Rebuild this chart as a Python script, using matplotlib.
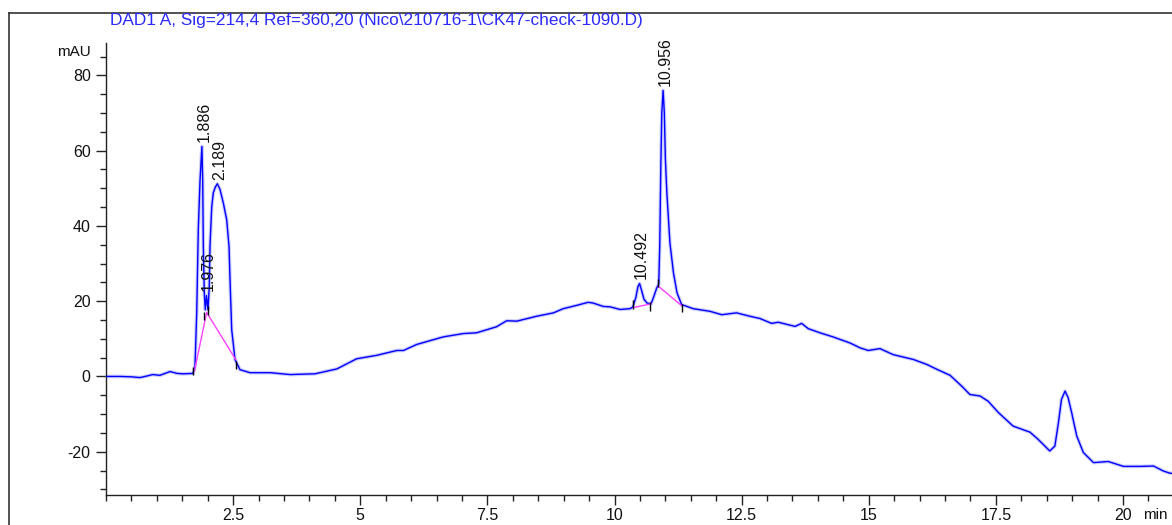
import numpy as np
import matplotlib
matplotlib.use("Agg")
import matplotlib.pyplot as plt
from matplotlib.lines import Line2D
from matplotlib.ticker import MultipleLocator, FixedLocator

plt.rcParams['font.family'] = ['Liberation Sans', 'DejaVu Sans']

# DAD1 A chromatogram trace (retention time in min, absorbance in mAU)
time_min = [
    0.00, 0.28, 0.50, 0.67, 0.80, 0.92, 1.06, 1.26, 1.40, 1.52, 1.71,
    1.750, 1.784, 1.815, 1.849, 1.886, 1.902, 1.914, 1.933, 1.953, 1.976,
    2.006, 2.031, 2.045, 2.079, 2.110, 2.150, 2.189, 2.242, 2.307, 2.374,
    2.419, 2.439, 2.472, 2.537, 2.635, 2.832,
    3.23, 3.62, 4.11, 4.54, 4.93, 5.32, 5.72, 5.85, 6.11, 6.63, 7.03, 7.29,
    7.68, 7.88, 8.08, 8.47, 8.80, 8.99, 9.26, 9.48, 9.58, 9.78, 9.91, 10.11,
    10.30, 10.36, 10.42, 10.46, 10.492, 10.53, 10.58, 10.64, 10.72, 10.78,
    10.83, 10.87, 10.89, 10.91, 10.93, 10.956, 10.98, 11.00, 11.03, 11.09,
    11.16, 11.23, 11.32, 11.55, 11.88, 12.11, 12.40, 12.66, 12.86, 13.09,
    13.22, 13.55, 13.68, 13.81, 14.04, 14.30, 14.63, 14.83, 14.99, 15.22,
    15.48, 15.88, 16.14, 16.34, 16.60, 16.83, 16.99, 17.19, 17.35, 17.55,
    17.84, 18.17, 18.33, 18.56, 18.66, 18.73, 18.79, 18.86, 18.92, 18.99,
    19.09, 19.22, 19.42, 19.71, 20.01, 20.33, 20.60, 20.79, 20.92, 21.00,
]
signal_mau = [
    0.0, 0.0, -0.1, -0.3, 0.1, 0.5, 0.3, 1.3, 0.8, 0.7, 0.8,
    2.6, 16.9, 39.0, 52.0, 61.1, 52.0, 34.6, 22.2, 17.7, 21.5,
    17.7, 24.0, 34.6, 45.0, 48.8, 50.3, 51.2, 49.7, 46.1, 41.6,
    34.6, 25.7, 12.4, 4.5, 1.8, 1.0,
    1.0, 0.5, 0.7, 2.0, 4.7, 5.6, 6.9, 6.9, 8.5, 10.5, 11.4, 11.6,
    13.2, 14.8, 14.7, 16.0, 16.9, 18.0, 18.9, 19.7, 19.5, 18.6, 18.5, 17.8,
    18.0, 18.4, 21.0, 23.8, 24.7, 23.0, 20.5, 19.5, 19.3, 21.5,
    23.5, 24.5, 35.0, 55.0, 70.0, 76.0, 70.0, 58.0, 48.7, 35.5,
    27.5, 22.2, 19.1, 18.0, 17.3, 16.4, 16.9, 16.0, 15.4, 14.1,
    14.4, 13.3, 14.1, 12.7, 11.6, 10.5, 8.9, 7.6, 6.9, 7.4,
    5.8, 4.5, 3.2, 1.9, 0.3, -2.6, -4.8, -5.2, -6.6, -9.6,
    -13.2, -14.8, -16.7, -19.8, -18.5, -12.3, -6.1, -3.9, -5.6, -9.6,
    -15.8, -20.2, -22.9, -22.6, -23.9, -23.9, -23.8, -25.1, -25.7, -25.8,
]

# Integrated peaks (retention times)
peak_times = [1.886, 1.976, 2.189, 10.492, 10.956]
peak_labels = ["1.886", "1.976", "2.189", "10.492", "10.956"]

# Integration baselines drawn under the peaks
baseline_1_t = [1.74, 1.98, 2.55]
baseline_1_y = [1.5, 17.0, 4.5]
baseline_2_t = [10.37, 10.72]
baseline_2_y = [18.3, 19.3]
baseline_3_t = [10.86, 11.32]
baseline_3_y = [24.0, 18.8]

# Peak start / end event markers
event_times = [1.72, 1.92, 2.01, 2.55, 10.37, 10.70, 10.86, 11.32]
event_levels = [1.5, 16.0, 17.5, 3.1, 19.1, 18.6, 24.9, 18.1]

title_text = r"DAD1 A, Sig=214,4 Ref=360,20 (Nico\210716-1\CK47-check-1090.D)"

W, H = 1172, 525
fig = plt.figure(figsize=(W / 100, H / 100), dpi=100)
fig.patch.set_facecolor("white")

ax_left, ax_right, ax_top, ax_bottom = 106, 1172, 43, 495
ax = fig.add_axes([ax_left / W, 1 - ax_bottom / H,
                   (ax_right - ax_left) / W, (ax_bottom - ax_top) / H])
ax.set_facecolor("white")

# trace: soft halo plus solid line
ax.plot(time_min, signal_mau, color="#8c8cff", lw=2.6, alpha=0.45,
        solid_joinstyle="round", zorder=2)
ax.plot(time_min, signal_mau, color="#0000ff", lw=1.0, zorder=3)

for bt, by in [(baseline_1_t, baseline_1_y), (baseline_2_t, baseline_2_y),
               (baseline_3_t, baseline_3_y)]:
    ax.plot(bt, by, color="#ff40ff", lw=1.0, zorder=4)

ev_lv = np.array(event_levels)
ax.vlines(event_times, ev_lv - 1.1, ev_lv + 1.1, color="black", lw=1.0, zorder=5)

for pt, lab in zip(peak_times, peak_labels):
    py = np.interp(pt, time_min, signal_mau)
    ax.annotate(lab, xy=(pt, py), xytext=(1.5, 3), textcoords="offset points",
                rotation=90, ha="center", va="bottom", fontsize=11.5,
                color="#111111", zorder=6)

ax.set_xlim(0, (ax_right - ax_left) / 50.85)
ax.set_ylim(-31.5, 88.6)

ax.spines["top"].set_visible(False)
ax.spines["right"].set_visible(False)
for s in ("left", "bottom"):
    ax.spines[s].set_color("#222222")
    ax.spines[s].set_linewidth(1.0)

ax.xaxis.set_major_locator(FixedLocator([2.5, 5, 7.5, 10, 12.5, 15, 17.5, 20]))
ax.xaxis.set_minor_locator(MultipleLocator(0.5))
ax.yaxis.set_major_locator(FixedLocator([-20, 0, 20, 40, 60, 80]))
ax.yaxis.set_minor_locator(MultipleLocator(5))
ax.set_xticklabels(["2.5", "5", "7.5", "10", "12.5", "15", "17.5", "20"])
ax.set_yticklabels(["-20", "0", "20", "40", "60", "80"])

ax.tick_params(axis="both", which="major", direction="out", length=7.5,
               width=1.0, color="#222222", labelsize=11.5, labelcolor="#111111")
ax.tick_params(axis="both", which="minor", direction="out", length=4,
               width=1.0, color="#222222")
ax.tick_params(axis="y", which="major", pad=3.5)
ax.tick_params(axis="x", which="major", pad=2)

# units
fig.text(57 / W, 1 - 52 / H, "mAU", ha="left", va="center", fontsize=11,
         color="#111111")
fig.text(1143 / W, 1 - 515 / H, "min", ha="left", va="center", fontsize=11,
         color="#111111")

# signal description
fig.text(110 / W, 1 - 21 / H, title_text, ha="left", va="center",
         fontsize=12.4, color="#2a2aff")

# outer frame
fig.add_artist(Line2D([9 / W, 9 / W], [0, 1 - 13 / H], transform=fig.transFigure,
                      color="#333333", lw=1.2))
fig.add_artist(Line2D([9 / W, 1], [1 - 13 / H, 1 - 13 / H],
                      transform=fig.transFigure, color="#333333", lw=1.2))

fig.savefig("out.png", dpi=100, facecolor="white")
